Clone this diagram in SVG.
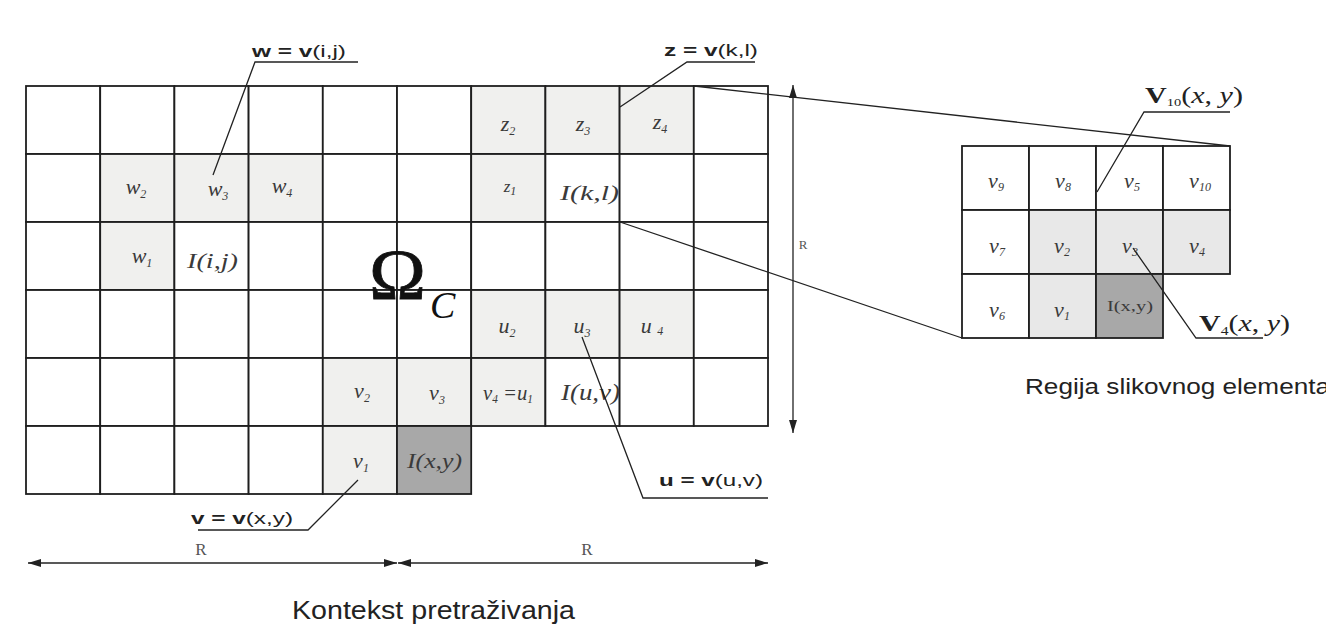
<svg xmlns="http://www.w3.org/2000/svg" width="1326" height="624" viewBox="0 0 1326 624">
<style>
.c{fill:#ffffff;stroke:#1e1e1e;stroke-width:1.8}
.l{fill:#f0f0ee;stroke:#1e1e1e;stroke-width:1.8}
.l2{fill:#e8e8e8;stroke:#1e1e1e;stroke-width:1.8}
.d{fill:#a8a8a8;stroke:#1e1e1e;stroke-width:1.8}
.t{font-family:"Liberation Serif","Times New Roman",serif;font-style:italic;font-size:22px;fill:#3a3a3a;text-anchor:middle}
.tn{font-family:"Liberation Serif","Times New Roman",serif;font-size:15px;fill:#3a3a3a}
.s{font-size:12px}
.lab{font-family:"Liberation Sans",Arial,sans-serif;font-size:16px;fill:#222}
.b{font-weight:bold}
.cap{font-family:"Liberation Sans",Arial,sans-serif;fill:#222}
.R{font-family:"Liberation Serif","Times New Roman",serif;fill:#555;text-anchor:middle}
.ln{fill:none;stroke:#222;stroke-width:1.3}
.dim{fill:none;stroke:#222;stroke-width:1.3;marker-start:url(#ah);marker-end:url(#ah)}
</style>
<defs>
<marker id="ah" markerUnits="userSpaceOnUse" markerWidth="14" markerHeight="9" refX="13" refY="4" orient="auto-start-reverse">
<path d="M0,0 L13,4 L0,8 z" fill="#222"/>
</marker>
</defs>
<rect x="0" y="0" width="1326" height="624" fill="#ffffff"/>

<g id="left-grid">
<!-- row 0 -->
<rect class="c" x="26" y="86" width="74.2" height="68"/>
<rect class="c" x="100.2" y="86" width="74.2" height="68"/>
<rect class="c" x="174.4" y="86" width="74.2" height="68"/>
<rect class="c" x="248.6" y="86" width="74.2" height="68"/>
<rect class="c" x="322.8" y="86" width="74.2" height="68"/>
<rect class="c" x="397" y="86" width="74.2" height="68"/>
<rect class="l" x="471.2" y="86" width="74.2" height="68"/>
<rect class="l" x="545.4" y="86" width="74.2" height="68"/>
<rect class="l" x="619.6" y="86" width="74.2" height="68"/>
<rect class="c" x="693.8" y="86" width="74.2" height="68"/>
<!-- row 1 -->
<rect class="c" x="26" y="154" width="74.2" height="68"/>
<rect class="l" x="100.2" y="154" width="74.2" height="68"/>
<rect class="l" x="174.4" y="154" width="74.2" height="68"/>
<rect class="l" x="248.6" y="154" width="74.2" height="68"/>
<rect class="c" x="322.8" y="154" width="74.2" height="68"/>
<rect class="c" x="397" y="154" width="74.2" height="68"/>
<rect class="l" x="471.2" y="154" width="74.2" height="68"/>
<rect class="c" x="545.4" y="154" width="74.2" height="68"/>
<rect class="c" x="619.6" y="154" width="74.2" height="68"/>
<rect class="c" x="693.8" y="154" width="74.2" height="68"/>
<!-- row 2 -->
<rect class="c" x="26" y="222" width="74.2" height="68"/>
<rect class="l" x="100.2" y="222" width="74.2" height="68"/>
<rect class="c" x="174.4" y="222" width="74.2" height="68"/>
<rect class="c" x="248.6" y="222" width="74.2" height="68"/>
<rect class="c" x="322.8" y="222" width="74.2" height="68"/>
<rect class="c" x="397" y="222" width="74.2" height="68"/>
<rect class="c" x="471.2" y="222" width="74.2" height="68"/>
<rect class="c" x="545.4" y="222" width="74.2" height="68"/>
<rect class="c" x="619.6" y="222" width="74.2" height="68"/>
<rect class="c" x="693.8" y="222" width="74.2" height="68"/>
<!-- row 3 -->
<rect class="c" x="26" y="290" width="74.2" height="68"/>
<rect class="c" x="100.2" y="290" width="74.2" height="68"/>
<rect class="c" x="174.4" y="290" width="74.2" height="68"/>
<rect class="c" x="248.6" y="290" width="74.2" height="68"/>
<rect class="c" x="322.8" y="290" width="74.2" height="68"/>
<rect class="c" x="397" y="290" width="74.2" height="68"/>
<rect class="l" x="471.2" y="290" width="74.2" height="68"/>
<rect class="l" x="545.4" y="290" width="74.2" height="68"/>
<rect class="l" x="619.6" y="290" width="74.2" height="68"/>
<rect class="c" x="693.8" y="290" width="74.2" height="68"/>
<!-- row 4 -->
<rect class="c" x="26" y="358" width="74.2" height="68"/>
<rect class="c" x="100.2" y="358" width="74.2" height="68"/>
<rect class="c" x="174.4" y="358" width="74.2" height="68"/>
<rect class="c" x="248.6" y="358" width="74.2" height="68"/>
<rect class="l" x="322.8" y="358" width="74.2" height="68"/>
<rect class="l" x="397" y="358" width="74.2" height="68"/>
<rect class="l" x="471.2" y="358" width="74.2" height="68"/>
<rect class="c" x="545.4" y="358" width="74.2" height="68"/>
<rect class="c" x="619.6" y="358" width="74.2" height="68"/>
<rect class="c" x="693.8" y="358" width="74.2" height="68"/>
<!-- row 5 -->
<rect class="c" x="26" y="426" width="74.2" height="68"/>
<rect class="c" x="100.2" y="426" width="74.2" height="68"/>
<rect class="c" x="174.4" y="426" width="74.2" height="68"/>
<rect class="c" x="248.6" y="426" width="74.2" height="68"/>
<rect class="l" x="322.8" y="426" width="74.2" height="68"/>
<rect class="d" x="397" y="426" width="74.2" height="68"/>
</g>

<g id="left-grid-labels">
<text class="t" x="136" y="194">w<tspan class="s" dy="4">2</tspan></text>
<text class="t" x="218" y="196">w<tspan class="s" dy="4">3</tspan></text>
<text class="t" x="282" y="193">w<tspan class="s" dy="4">4</tspan></text>
<text class="t" x="142" y="263">w<tspan class="s" dy="4">1</tspan></text>
<text class="t" x="187" y="268" style="text-anchor:start" textLength="51" lengthAdjust="spacingAndGlyphs">I(i,j)</text>
<text class="t" x="508" y="131">z<tspan class="s" dy="4">2</tspan></text>
<text class="t" x="583" y="131">z<tspan class="s" dy="4">3</tspan></text>
<text class="t" x="660" y="129">z<tspan class="s" dy="4">4</tspan></text>
<text class="t" x="510" y="192" style="font-size:17px">z<tspan class="s" dy="3">1</tspan></text>
<text class="t" x="560" y="200" style="text-anchor:start;font-size:22px" textLength="59" lengthAdjust="spacingAndGlyphs">I(k,l)</text>
<text class="t" x="507" y="333">u<tspan class="s" dy="4">2</tspan></text>
<text class="t" x="582" y="333">u<tspan class="s" dy="4">3</tspan></text>
<text class="t" x="652" y="333">u <tspan class="s" dy="2">4</tspan></text>
<text class="t" x="362" y="398">v<tspan class="s" dy="4">2</tspan></text>
<text class="t" x="437" y="400">v<tspan class="s" dy="4">3</tspan></text>
<text class="t" x="483" y="400" style="text-anchor:start" textLength="50" lengthAdjust="spacingAndGlyphs">v<tspan class="s" dy="3">4</tspan><tspan dy="-3"> =u</tspan><tspan class="s" dy="3">1</tspan></text>
<text class="t" x="561" y="400" style="text-anchor:start;font-size:24px" textLength="59" lengthAdjust="spacingAndGlyphs">I(u,v)</text>
<text class="t" x="361" y="468">v<tspan class="s" dy="4">1</tspan></text>
<text class="t" x="407" y="468" style="text-anchor:start;font-size:20px" textLength="55" lengthAdjust="spacingAndGlyphs">I(x,y)</text>
</g>

<g id="omega-c">
<text x="369" y="299" textLength="57" lengthAdjust="spacingAndGlyphs" style="font-family:'Liberation Serif','Times New Roman',serif;font-size:72px;fill:#111;stroke:#111;stroke-width:0.8">Ω</text>
<text x="430" y="318" style="font-family:'Liberation Serif','Times New Roman',serif;font-style:italic;font-size:38px;fill:#111">C</text>
</g>

<g id="right-grid">
<rect class="c" x="962" y="146" width="67" height="64"/>
<rect class="c" x="1029" y="146" width="67" height="64"/>
<rect class="c" x="1096" y="146" width="67" height="64"/>
<rect class="c" x="1163" y="146" width="67" height="64"/>
<rect class="c" x="962" y="210" width="67" height="64"/>
<rect class="l2" x="1029" y="210" width="67" height="64"/>
<rect class="l2" x="1096" y="210" width="67" height="64"/>
<rect class="l2" x="1163" y="210" width="67" height="64"/>
<rect class="c" x="962" y="274" width="67" height="64"/>
<rect class="l2" x="1029" y="274" width="67" height="64"/>
<rect class="d" x="1096" y="274" width="67" height="64"/>
</g>

<g id="right-grid-labels">
<text class="t" x="996" y="188">v<tspan class="s" dy="3">9</tspan></text>
<text class="t" x="1063" y="188">v<tspan class="s" dy="3">8</tspan></text>
<text class="t" x="1132" y="188">v<tspan class="s" dy="3">5</tspan></text>
<text class="t" x="1200" y="188">v<tspan class="s" dy="3">10</tspan></text>
<text class="t" x="997" y="253">v<tspan class="s" dy="3">7</tspan></text>
<text class="t" x="1062" y="253">v<tspan class="s" dy="3">2</tspan></text>
<text class="t" x="1130" y="253">v<tspan class="s" dy="3">3</tspan></text>
<text class="t" x="1197" y="253">v<tspan class="s" dy="3">4</tspan></text>
<text class="t" x="997" y="317">v<tspan class="s" dy="3">6</tspan></text>
<text class="t" x="1062" y="317">v<tspan class="s" dy="3">1</tspan></text>
<text class="tn" x="1107" y="311" textLength="46" lengthAdjust="spacingAndGlyphs">I(x,y)</text>
</g>

<g id="connectors">
<polyline class="ln" points="358,62 255,62 213,175"/>
<polyline class="ln" points="755,62 687,62 620,107"/>
<polyline class="ln" points="198,530 308,530 358,480"/>
<polyline class="ln" points="768,498 643,498 582,337"/>
<polyline class="ln" points="1230,112 1144,112 1097,192"/>
<polyline class="ln" points="1263,338 1196,338 1133,248"/>
<line class="ln" x1="694" y1="86" x2="1230" y2="146"/>
<line class="ln" x1="620" y1="222" x2="962" y2="338"/>
<line class="dim" x1="28" y1="563" x2="397" y2="563"/>
<line class="dim" x1="398" y1="563" x2="768" y2="563"/>
<line class="dim" x1="793" y1="85" x2="793" y2="433"/>
</g>

<g id="callout-labels">
<text class="lab" x="252" y="57" textLength="94" lengthAdjust="spacingAndGlyphs"><tspan class="b">w = v</tspan>(i,j)</text>
<text class="lab" x="664" y="56" textLength="94" lengthAdjust="spacingAndGlyphs"><tspan class="b">z = v</tspan>(k,l)</text>
<text class="lab" x="191" y="524" textLength="102" lengthAdjust="spacingAndGlyphs"><tspan class="b">v = v</tspan>(x,y)</text>
<text class="lab" x="659" y="486" textLength="104" lengthAdjust="spacingAndGlyphs"><tspan class="b">u = v</tspan>(u,v)</text>
<text x="1145" y="103" textLength="98" lengthAdjust="spacingAndGlyphs" style="font-family:'Liberation Serif','Times New Roman',serif;font-size:23px;fill:#222"><tspan font-weight="bold">V</tspan><tspan font-size="11" dy="3">10</tspan><tspan dy="-3">(</tspan><tspan font-style="italic">x</tspan>, <tspan font-style="italic">y</tspan>)</text>
<text x="1199" y="331" textLength="91" lengthAdjust="spacingAndGlyphs" style="font-family:'Liberation Serif','Times New Roman',serif;font-size:23px;fill:#222"><tspan font-weight="bold">V</tspan><tspan font-size="12" dy="4">4</tspan><tspan dy="-4">(</tspan><tspan font-style="italic">x</tspan>, <tspan font-style="italic">y</tspan>)</text>
</g>

<g id="dimension-labels">
<text class="R" x="201" y="555" font-size="17">R</text>
<text class="R" x="587" y="555" font-size="17">R</text>
<text class="R" x="803" y="249" font-size="13" fill="#888">R</text>
</g>

<g id="captions">
<text class="cap" x="292" y="619" font-size="25" textLength="283" lengthAdjust="spacingAndGlyphs">Kontekst pretraživanja</text>
<text class="cap" x="1025" y="394" font-size="22" textLength="305" lengthAdjust="spacingAndGlyphs">Regija slikovnog elementa</text>
</g>
</svg>
